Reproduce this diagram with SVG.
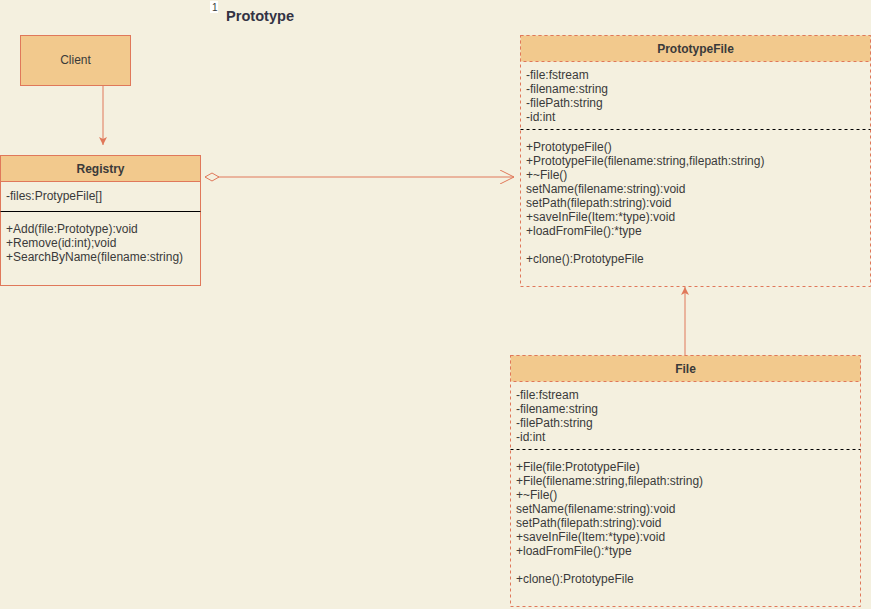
<svg xmlns="http://www.w3.org/2000/svg" width="871" height="609" viewBox="0 0 871 609">
<style>
text{font-family:"Liberation Sans",Arial,sans-serif;font-size:12px;fill:#3a3a3a}
.hd{font-weight:bold;text-anchor:middle}
.box{fill:#f4f0df;stroke:#e0785a;stroke-width:1}
.dbox{fill:#f4f0df;stroke:#e0785a;stroke-width:1;stroke-dasharray:3 3}
.head{fill:#f2c98d;stroke:#e0785a;stroke-width:1}
.dhead{fill:#f2c98d;stroke:#e0785a;stroke-width:1;stroke-dasharray:3 3}
.sep{stroke:#000;stroke-width:1}
.dsep{stroke:#000;stroke-width:1;stroke-dasharray:3 3}
.conn{stroke:#e0785a;stroke-width:1;fill:none}
</style>
<defs>
<marker id="tri" markerWidth="10" markerHeight="10" refX="8" refY="4" orient="auto" markerUnits="userSpaceOnUse">
<path d="M0,0 L8,4 L0,8 L2,4 Z" fill="#e0785a"/>
</marker>
<marker id="open" markerWidth="16" markerHeight="14" refX="14" refY="7" orient="auto" markerUnits="userSpaceOnUse">
<path d="M0,0 L14,7 L0,14" fill="none" stroke="#e0785a" stroke-width="1"/>
</marker>
<marker id="dia" markerWidth="18" markerHeight="10" refX="1" refY="5" orient="auto" markerUnits="userSpaceOnUse">
<path d="M1,5 L8,1 L15,5 L8,9 Z" fill="#f4f0df" stroke="#e0785a" stroke-width="1"/>
</marker>
</defs>
<rect width="871" height="609" fill="#f4f0df"/>
<g id="title">
<rect x="210" y="1" width="8" height="12" fill="#fff"/>
<text x="212" y="11" style="font-size:10px">1</text>
<text x="226" y="21" style="font-size:14.6px;font-weight:bold;fill:#333344">Prototype</text>
</g>
<g id="connectors">
<line class="conn" x1="103" y1="85" x2="103" y2="145" marker-end="url(#tri)"/>
<line class="conn" x1="205" y1="177" x2="514" y2="177" marker-start="url(#dia)" marker-end="url(#open)"/>
<line class="conn" x1="685" y1="355" x2="685" y2="287" marker-end="url(#tri)"/>
</g>
<g id="client">
<rect class="head" x="20.5" y="35.5" width="110" height="50"/>
<text x="75.5" y="64" style="text-anchor:middle">Client</text>
</g>
<g id="registry">
<rect class="box" x="0.5" y="155.5" width="200" height="130"/>
<rect class="head" x="0.5" y="155.5" width="200" height="26"/>
<text class="hd" x="100.5" y="173">Registry</text>
<text x="6" y="200">-files:ProtypeFile[]</text>
<line class="sep" x1="0.5" y1="211.5" x2="200.5" y2="211.5"/>
<text x="6" y="233">+Add(file:Prototype):void</text>
<text x="6" y="247">+Remove(id:int);void</text>
<text x="6" y="261">+SearchByName(filename:string)</text>
</g>
<g id="prototypefile">
<rect class="dbox" x="520.5" y="35.5" width="350" height="251"/>
<rect class="dhead" x="520.5" y="35.5" width="350" height="26"/>
<text class="hd" x="695.5" y="53">PrototypeFile</text>
<text x="526" y="79">-file:fstream</text>
<text x="526" y="93">-filename:string</text>
<text x="526" y="107">-filePath:string</text>
<text x="526" y="121">-id:int</text>
<line class="dsep" x1="520.5" y1="129.5" x2="870.5" y2="129.5"/>
<text x="526" y="151">+PrototypeFile()</text>
<text x="526" y="165">+PrototypeFile(filename:string,filepath:string)</text>
<text x="526" y="179">+~File()</text>
<text x="526" y="193">setName(filename:string):void</text>
<text x="526" y="207">setPath(filepath:string):void</text>
<text x="526" y="221">+saveInFile(Item:*type):void</text>
<text x="526" y="235">+loadFromFile():*type</text>
<text x="526" y="263">+clone():PrototypeFile</text>
</g>
<g id="file">
<rect class="dbox" x="510.5" y="355.5" width="350" height="251"/>
<rect class="dhead" x="510.5" y="355.5" width="350" height="26"/>
<text class="hd" x="685.5" y="373">File</text>
<text x="516" y="399">-file:fstream</text>
<text x="516" y="413">-filename:string</text>
<text x="516" y="427">-filePath:string</text>
<text x="516" y="441">-id:int</text>
<line class="dsep" x1="510.5" y1="449.5" x2="860.5" y2="449.5"/>
<text x="516" y="471">+File(file:PrototypeFile)</text>
<text x="516" y="485">+File(filename:string,filepath:string)</text>
<text x="516" y="499">+~File()</text>
<text x="516" y="513">setName(filename:string):void</text>
<text x="516" y="527">setPath(filepath:string):void</text>
<text x="516" y="541">+saveInFile(Item:*type):void</text>
<text x="516" y="555">+loadFromFile():*type</text>
<text x="516" y="583">+clone():PrototypeFile</text>
</g>
</svg>
